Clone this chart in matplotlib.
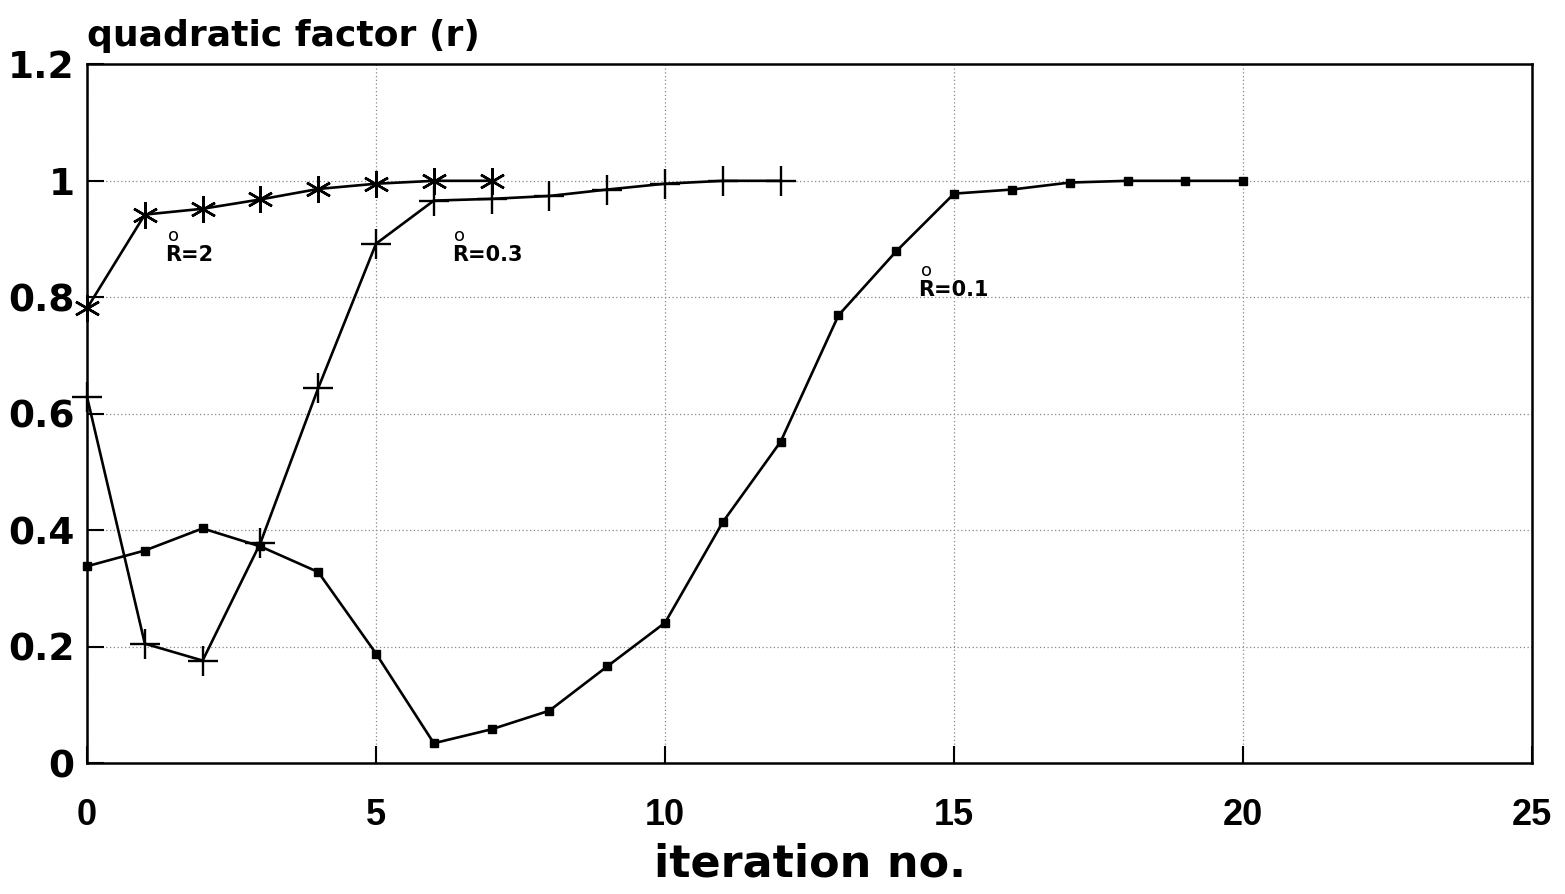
import matplotlib
matplotlib.use("Agg")
import matplotlib.pyplot as plt

plt.rcParams["font.family"] = ["DejaVu Sans"]
plt.rcParams["font.weight"] = "bold"

# iteration numbers and quadratic factor r for three starting values R0
iter_r2 = [0, 1, 2, 3, 4, 5, 6, 7]
r_r2 = [0.781, 0.942, 0.952, 0.968, 0.986, 0.995, 1.0, 1.0]

iter_r03 = [0, 1, 2, 3, 4, 5, 6, 7, 8, 9, 10, 11, 12]
r_r03 = [0.629, 0.205, 0.176, 0.378, 0.644, 0.892, 0.966, 0.969, 0.974,
         0.985, 0.995, 1.0, 1.0]

iter_r01 = list(range(21))
r_r01 = [0.338, 0.365, 0.403, 0.372, 0.328, 0.188, 0.034, 0.058, 0.09,
         0.166, 0.241, 0.414, 0.552, 0.769, 0.879, 0.978, 0.985, 0.997,
         1.0, 1.0, 1.0]

labels = ["R=2", "R=0.3", "R=0.1"]
label_pos = [(1.35, 0.872), (6.31, 0.872), (14.38, 0.812)]

fig = plt.figure(figsize=(15.65, 8.94), dpi=100)
ax = fig.add_axes([0.0556, 0.1465, 0.9234, 0.7815])

ax.plot(iter_r2, r_r2, color="black", lw=1.9, marker=(6, 2, 0),
        markersize=19, markeredgewidth=1.8, clip_on=False, zorder=3)
ax.plot(iter_r03, r_r03, color="black", lw=1.9, marker="+",
        markersize=22, markeredgewidth=1.7, clip_on=False, zorder=3)
ax.plot(iter_r01, r_r01, color="black", lw=1.9, marker="s",
        markersize=6, clip_on=False, zorder=3)

for lab, (x, y) in zip(labels, label_pos):
    ax.text(x, y, lab, fontsize=15, fontweight="bold", ha="left", va="center")
    ax.text(x + 0.14, y + 0.033, "o", fontsize=13, fontweight="normal",
            ha="center", va="center")

ax.set_xlim(0, 25)
ax.set_ylim(0, 1.2)
ax.set_xticks([0, 5, 10, 15, 20, 25])
ax.set_xticklabels(["0", "5", "10", "15", "20", "25"],
                   fontfamily="Liberation Sans", fontsize=26, fontweight="bold")
ax.set_yticks([0, 0.2, 0.4, 0.6, 0.8, 1.0, 1.2])
ax.set_yticklabels(["0", "0.2", "0.4", "0.6", "0.8", "1", "1.2"],
                   fontsize=27, fontweight="bold")
ax.grid(True, linestyle=(0, (1, 2)), color="#888888", linewidth=0.9)
ax.tick_params(direction="in", length=12, width=1.5, top=False, right=False)
ax.tick_params(axis="x", pad=25)
ax.tick_params(axis="y", pad=9)
for sp in ax.spines.values():
    sp.set_linewidth(1.8)

ax.set_xlabel("iteration no.", fontsize=32, fontweight="bold", labelpad=7)
fig.text(0.0556, 0.96, "quadratic factor (r)", fontsize=26,
         fontweight="bold", ha="left", va="center")

plt.savefig("out.png", dpi=100)
plt.close()
